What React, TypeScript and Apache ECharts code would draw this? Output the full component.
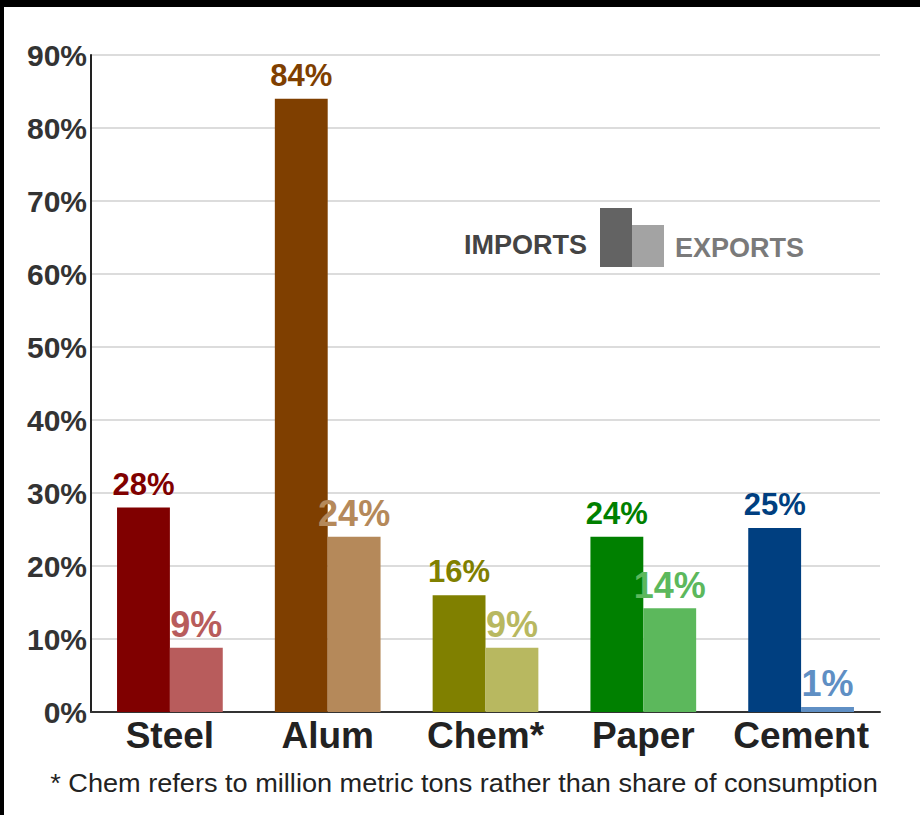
import React, { useEffect, useRef } from "react";
import * as echarts from "echarts";

const categories = ["Steel", "Alum", "Chem*", "Paper", "Cement"];
const importValues = [28, 84, 16, 24, 25.2];
const exportValues = [8.8, 24, 8.8, 14.2, 0.7];
const importColors = ["#800000", "#7f3f00", "#808000", "#008000", "#003f80"];
const exportColors = ["#b85c5c", "#b5895a", "#b8b860", "#5cb85c", "#5f8fc4"];
const yTicks = [0, 10, 20, 30, 40, 50, 60, 70, 80, 90];
const legendLabels = ["IMPORTS", "EXPORTS"];
const footnote = "* Chem refers to million metric tons rather than share of consumption";

const FONT = "'Liberation Sans', Arial, sans-serif";

export default function App() {
  const ref = useRef<HTMLDivElement>(null);
  useEffect(() => {
    if (!ref.current) return;
    const chart = echarts.init(ref.current, null, { renderer: "svg" });
    const mk = (vals: number[], colors: string[]) =>
      vals.map((v, i) => ({
        value: v,
        itemStyle: { color: colors[i] },
        label: { color: colors[i] },
      }));
    const barLabel = (size: number, dist: number) => ({
      show: true,
      position: "top",
      distance: dist,
      fontFamily: FONT,
      fontWeight: "bold",
      fontSize: size,
      formatter: (p: any) => Math.round(p.value) + "%",
    });
    chart.setOption({
      animation: false,
      backgroundColor: "#ffffff",
      grid: { left: 91, right: 40, top: 55, bottom: 103, containLabel: false },
      xAxis: {
        type: "category",
        data: categories,
        axisLine: { show: true, lineStyle: { color: "#333", width: 2 } },
        axisTick: { show: false },
        axisLabel: {
          interval: 0,
          fontFamily: FONT,
          fontWeight: "bold",
          fontSize: 37,
          color: "#222",
          margin: 5,
        },
      },
      yAxis: {
        type: "value",
        min: yTicks[0],
        max: yTicks[yTicks.length - 1],
        interval: 10,
        axisLine: { show: true, lineStyle: { color: "#222", width: 2 } },
        axisTick: { show: false },
        splitLine: { lineStyle: { color: "#dcdcdc", width: 2 } },
        axisLabel: {
          formatter: "{value}%",
          fontFamily: FONT,
          fontWeight: "bold",
          fontSize: 30,
          color: "#333",
          margin: 4,
        },
      },
      series: [
        {
          name: legendLabels[0],
          type: "bar",
          data: mk(importValues, importColors),
          barGap: "0%",
          barCategoryGap: "33%",
          label: barLabel(31, 8),
        },
        {
          name: legendLabels[1],
          type: "bar",
          data: mk(exportValues, exportColors),
          barGap: "0%",
          barCategoryGap: "33%",
          label: barLabel(36, 5),
        },
      ],
      graphic: [
        { type: "rect", left: 0, top: 0, shape: { width: 920, height: 7 }, style: { fill: "#000" } },
        { type: "rect", left: 0, top: 0, shape: { width: 4, height: 815 }, style: { fill: "#000" } },
        {
          type: "text",
          x: 587,
          y: 245,
          style: {
            text: legendLabels[0],
            align: "right",
            verticalAlign: "middle",
            font: `bold 27px ${FONT}`,
            fill: "#444",
          },
        },
        { type: "rect", shape: { x: 600, y: 208, width: 32, height: 59 }, style: { fill: "#636363" } },
        { type: "rect", shape: { x: 632, y: 225, width: 32, height: 42 }, style: { fill: "#a3a3a3" } },
        {
          type: "text",
          x: 675,
          y: 248,
          style: {
            text: legendLabels[1],
            align: "left",
            verticalAlign: "middle",
            font: `bold 27px ${FONT}`,
            fill: "#7a7a7a",
          },
        },
        {
          type: "text",
          x: 464,
          y: 783,
          scaleX: 1.085,
          style: {
            text: footnote,
            align: "center",
            verticalAlign: "middle",
            font: `25px ${FONT}`,
            fill: "#222",
          },
        },
      ],
    });
    return () => chart.dispose();
  }, []);
  return (
    <div
      ref={ref}
      style={{ position: "fixed", left: 0, top: 0, width: 920, height: 815 }}
    />
  );
}
